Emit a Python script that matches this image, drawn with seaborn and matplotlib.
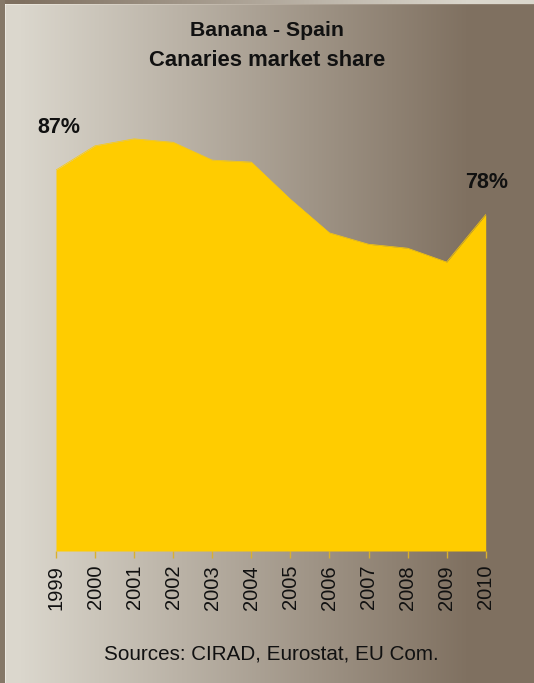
import numpy as np
import matplotlib
matplotlib.use("Agg")
import matplotlib.pyplot as plt
import seaborn as sns
import pandas as pd

years = [1999, 2000, 2001, 2002, 2003, 2004, 2005, 2006, 2007, 2008, 2009, 2010]
share = [87.0, 91.9, 93.3, 92.6, 89.0, 88.6, 81.1, 74.3, 72.0, 71.2, 68.4, 78.0]
title_lines = ["Banana - Spain", "Canaries market share"]
source_text = "Sources: CIRAD, Eurostat, EU Com."
first_label = "87%"
last_label = "78%"

sns.set_theme(style="white")
plt.rcParams['font.family'] = ['Liberation Sans', 'DejaVu Sans']

W, H = 534, 683
fig = plt.figure(figsize=(W / 100, H / 100), dpi=100)

light = np.array([219, 215, 205]) / 255.0
dark = np.array([127, 112, 96]) / 255.0

def grad(xs, reverse=False):
    t = np.clip((xs - 20) / (470 - 20), 0, 1)
    if reverse:
        t = 1 - t
    return light[None, :] * (1 - t[:, None]) + dark[None, :] * t[:, None]

xs = np.arange(W, dtype=float)
inner = grad(xs)
outer = grad(xs, reverse=True)
img = np.repeat(inner[None, :, :], H, axis=0)
img[:4, :, :] = outer[None, :, :]
img[:, :5, :] = np.array([133, 120, 104]) / 255.0
img[4:, 5, :] = np.array([235, 232, 225]) / 255.0
img[4, 5:, :] = np.minimum(img[4, 5:, :] + 0.06, 1)

bg = fig.add_axes([0, 0, 1, 1], zorder=-10)
bg.imshow(img, aspect='auto', extent=[0, W, H, 0], interpolation='nearest')
bg.axis('off')

left = 56 / W
right = 485.7 / W
bottom = 1 - 551 / H
ymin, ymax = 10, 100
top_px = 551 - (ymax - ymin) * 4.948
top = 1 - top_px / H

ax = fig.add_axes([left, bottom, right - left, top - bottom])
ax.patch.set_alpha(0)
df = pd.DataFrame({"year": years, "share": share})
yellow = "#FFCC00"
sns.lineplot(data=df, x="year", y="share", ax=ax, color=yellow, linewidth=0.5)
ax.fill_between(df["year"], df["share"], ymin, color=yellow, linewidth=0)
ax.set_xlim(years[0], years[-1])
ax.set_ylim(ymin, ymax)
ax.set_xlabel("")
ax.set_ylabel("")
for s in ax.spines.values():
    s.set_visible(False)
ax.set_yticks([])
ax.set_xticks(years)
ax.set_xticklabels([str(y) for y in years], rotation=90, fontsize=14.5, color="#111111")
ax.tick_params(axis='x', bottom=True, length=5, width=1, color="#D9B030", pad=5)

ax.annotate(first_label, (years[0], share[0]), xytext=(3, 43), textcoords='offset pixels',
            ha='center', va='center', fontsize=15.5, fontweight='bold', color="#111111",
            annotation_clip=False)
ax.annotate(last_label, (years[-1], share[-1]), xytext=(1, 32), textcoords='offset pixels',
            ha='center', va='center', fontsize=15.5, fontweight='bold', color="#111111",
            annotation_clip=False)

fig.text(267 / W, 1 - 30 / H, title_lines[0], ha='center', va='center', fontsize=15.3,
         fontweight='bold', color="#111111")
fig.text(267 / W, 1 - 60 / H, title_lines[1], ha='center', va='center', fontsize=15.8,
         fontweight='bold', color="#111111")
fig.text(271 / W, 1 - 654 / H, source_text, ha='center', va='center', fontsize=14.9,
         color="#111111")

fig.savefig("out.png", dpi=100)
